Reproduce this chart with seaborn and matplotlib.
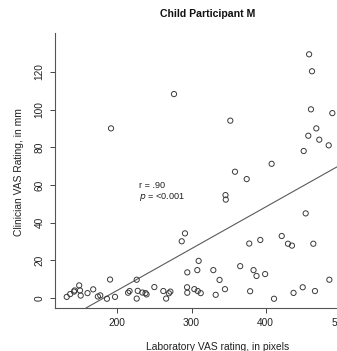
import matplotlib
matplotlib.use("Agg")
import matplotlib.pyplot as plt
import seaborn as sns
import pandas as pd

# Laboratory VAS (pixels) vs clinician VAS (mm)
lab_px = [131.8, 136.5, 141.6, 142.5, 148.6, 149.7, 150.6, 159.8, 167.5, 173.8,
          177.0, 186.0, 190.2, 196.9, 214.5, 216.5, 226.1, 226.1, 227.5, 233.7,
          238.0, 239.4, 249.9, 262.0, 265.8, 269.5, 271.5, 294.3, 307.8, 309.6,
          294.0, 294.3, 303.8, 308.4, 312.4, 329.4, 337.8, 332.6, 345.1, 365.6,
          383.6, 387.6, 399.2, 379.0, 411.2, 437.5, 449.9, 466.4, 485.8, 286.8,
          291.2, 377.8, 392.7, 421.6, 430.0, 435.4, 464.2, 453.9, 345.8, 346.2,
          358.6, 374.4, 408.0, 451.2, 457.4, 468.2, 472.2, 484.9, 461.0, 489.8,
          462.4, 458.5, 352.3, 276.4, 191.5]
clin_mm = [0.6, 2.1, 3.4, 4.0, 6.7, 4.0, 1.3, 2.6, 4.6, 0.8,
           1.4, -0.4, 9.8, 0.6, 2.8, 3.7, 9.7, -0.3, 3.8, 2.9,
           2.6, 1.9, 5.8, 3.7, -0.3, 2.5, 3.4, 13.6, 14.8, 19.7,
           5.7, 2.8, 4.7, 3.7, 2.6, 14.8, 9.6, 1.7, 4.7, 16.9,
           14.8, 11.7, 12.7, 3.6, -0.4, 2.7, 5.7, 3.7, 9.7, 30.1,
           34.3, 28.9, 30.8, 32.9, 28.8, 27.8, 28.8, 44.9, 54.6, 52.2,
           67.0, 63.1, 71.2, 78.0, 86.1, 90.0, 84.0, 81.0, 100.1, 98.1,
           120.3, 129.3, 94.1, 108.2, 90.0]

# fitted line (as drawn in the original)
fit_intercept = -40.2
fit_slope = 0.2213

x_ticks = [200, 300, 400, 500]
y_ticks = [0, 20, 40, 60, 80, 100, 120]

df = pd.DataFrame({"lab": lab_px, "clin": clin_mm})

sns.set_style("ticks")
plt.rcParams["font.family"] = ["Liberation Sans", "DejaVu Sans"]

W, H = 337, 351
fig = plt.figure(figsize=(W / 100, H / 100), dpi=100)
# plot region runs past the right edge of the image, like the cropped original
ax = fig.add_axes([55 / W, 1 - 308 / H, 305 / W, 275 / H])

sns.scatterplot(data=df, x="lab", y="clin", ax=ax, marker="o", s=14,
                facecolor="none", edgecolor="#3a3a3a", linewidth=0.7,
                legend=False, zorder=3)
ax.axline((0, fit_intercept), slope=fit_slope, color="#5a5a5a", lw=0.8, zorder=2)

ax.set_xlim(116.0, 527.1)
ax.set_ylim(-5.3, 140.6)
ax.set_xticks(x_ticks)
ax.set_yticks(y_ticks)
ax.set_xlabel("")
ax.set_ylabel("")
ax.tick_params(axis="both", labelsize=7.3, length=3.5, width=0.7,
               color="#444444", labelcolor="#222222", pad=4)
for lab in ax.get_yticklabels():
    lab.set_rotation(90)
    lab.set_va("center")

for side in ["top", "right"]:
    ax.spines[side].set_visible(False)
for side in ["left", "bottom"]:
    ax.spines[side].set_color("#555555")
    ax.spines[side].set_linewidth(0.8)

ax.text(229.6, 59.9, "r = .90", fontsize=6.6, color="#222222", va="center")
ax.text(229.6, 53.7, r"$p$ = <0.001", fontsize=6.6, color="#222222", va="center")

fig.text(207.5 / W, 1 - 14 / H, "Child Participant M", ha="center", va="center",
         fontsize=7.6, fontweight="bold", color="#111111")
fig.text(217.5 / W, 1 - 347 / H, "Laboratory VAS rating, in pixels",
         ha="center", va="center", fontsize=7.4, color="#222222")
fig.text(19 / W, 1 - 172 / H, "Clinician VAS Rating, in mm", rotation=90,
         ha="center", va="center", fontsize=7.4, color="#222222")

fig.savefig("out.png", dpi=100)
